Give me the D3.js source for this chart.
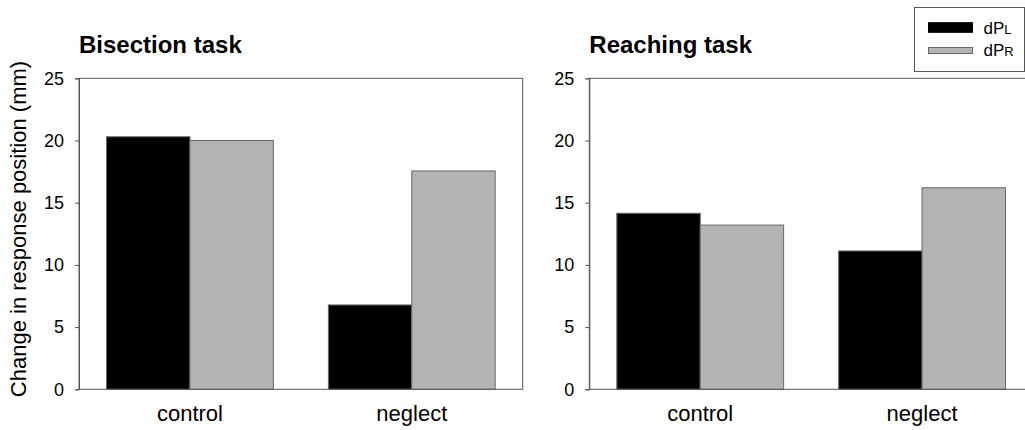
<!DOCTYPE html>
<html>
<head>
<meta charset="utf-8">
<script src="https://cdn.jsdelivr.net/npm/d3@7"></script>
<style>
  html, body { margin: 0; padding: 0; background: #fff; }
  svg { display: block; font-family: "Liberation Sans", Arial, sans-serif; }
</style>
</head>
<body>
<svg id="chart" width="1025" height="430"></svg>
<script>
// Data
const categories = ["control", "neglect"];
const seriesKeys = ["dPL", "dPR"];
const bisectionL = [20.3, 6.78];
const bisectionR = [20.0, 17.55];
const reachingL = [14.15, 11.12];
const reachingR = [13.2, 16.2];
const yTicks = [0, 5, 10, 15, 20, 25];
const panelTitles = ["Bisection task", "Reaching task"];
const legendMain = ["dP", "dP"];
const legendSub = ["L", "R"];

const colors = { dPL: "#000000", dPR: "#b4b4b4" };
const frameColor = "#555";

const svg = d3.select("#chart");

const y = d3.scaleLinear().domain([0, 25]).range([389.3, 78.3]);

const panels = [
  { title: panelTitles[0], x0: 79, x1: 522.7, L: bisectionL, R: bisectionR },
  { title: panelTitles[1], x0: 589.3, x1: 1033, L: reachingL, R: reachingR }
];

panels.forEach(p => {
  const g = svg.append("g");
  const x = d3.scaleBand().domain(categories).range([p.x0, p.x1]);
  const xs = d3.scaleBand().domain(seriesKeys).range([0, x.bandwidth()]).paddingOuter(0.33);

  const rows = categories.map((c, i) => ({ cat: c, values: [
    { key: "dPL", v: p.L[i] }, { key: "dPR", v: p.R[i] }
  ]}));

  // bars
  g.selectAll("g.cat").data(rows).join("g")
    .attr("class", "cat")
    .attr("transform", d => `translate(${x(d.cat)},0)`)
    .selectAll("rect").data(d => d.values).join("rect")
      .attr("x", d => xs(d.key))
      .attr("width", xs.bandwidth())
      .attr("y", d => y(d.v))
      .attr("height", d => y(0) - y(d.v))
      .attr("fill", d => colors[d.key])
      .attr("stroke", "#666")
      .attr("stroke-width", 1);

  // frame
  g.append("rect")
    .attr("x", p.x0).attr("y", y(25))
    .attr("width", p.x1 - p.x0).attr("height", y(0) - y(25))
    .attr("fill", "none").attr("stroke", frameColor).attr("stroke-width", 1);

  // y axis
  const ya = g.append("g").attr("transform", `translate(${p.x0},0)`)
    .call(d3.axisLeft(y).tickValues(yTicks).tickSize(4).tickPadding(11));
  ya.select(".domain").attr("stroke", frameColor);
  ya.selectAll(".tick line").attr("stroke", frameColor);
  ya.selectAll(".tick text")
    .style("font-size", "18px").attr("fill", "#000")
    .style("font-family", "'Liberation Sans', Arial, sans-serif");

  // x axis labels
  const xa = g.append("g").attr("transform", `translate(0,${y(0)})`)
    .call(d3.axisBottom(x).tickSize(0).tickPadding(0));
  xa.select(".domain").remove();
  xa.selectAll(".tick text")
    .attr("y", 32).attr("dy", 0)
    .style("font-size", "22px").attr("fill", "#000")
    .style("font-family", "'Liberation Sans', Arial, sans-serif");

  // title
  svg.append("text")
    .attr("x", p.x0).attr("y", 52.5)
    .style("font-size", "24px").style("font-weight", "bold")
    .text(p.title);
});

// y axis title
svg.append("text")
  .attr("transform", "translate(26,229) rotate(-90)")
  .attr("text-anchor", "middle")
  .style("font-size", "22px")
  .text("Change in response position (mm)");

// legend
const lg = svg.append("g");
lg.append("rect")
  .attr("x", 914.5).attr("y", 7.5).attr("width", 110).attr("height", 64)
  .attr("fill", "#fff").attr("stroke", frameColor);
const swatches = [
  { key: "dPL", y: 22.7, h: 9.6, stroke: "#000" },
  { key: "dPR", y: 47.5, h: 6, stroke: "#666" }
];
swatches.forEach((s, i) => {
  lg.append("rect")
    .attr("x", 928.5).attr("y", s.y).attr("width", 44).attr("height", s.h)
    .attr("fill", colors[s.key]).attr("stroke", s.stroke);
  const t = lg.append("text")
    .attr("x", 983.5).attr("y", i === 0 ? 34 : 56)
    .style("font-size", "17px");
  t.append("tspan").text(legendMain[i]);
  t.append("tspan").style("font-size", "13px").text(legendSub[i]);
});
</script>
</body>
</html>
